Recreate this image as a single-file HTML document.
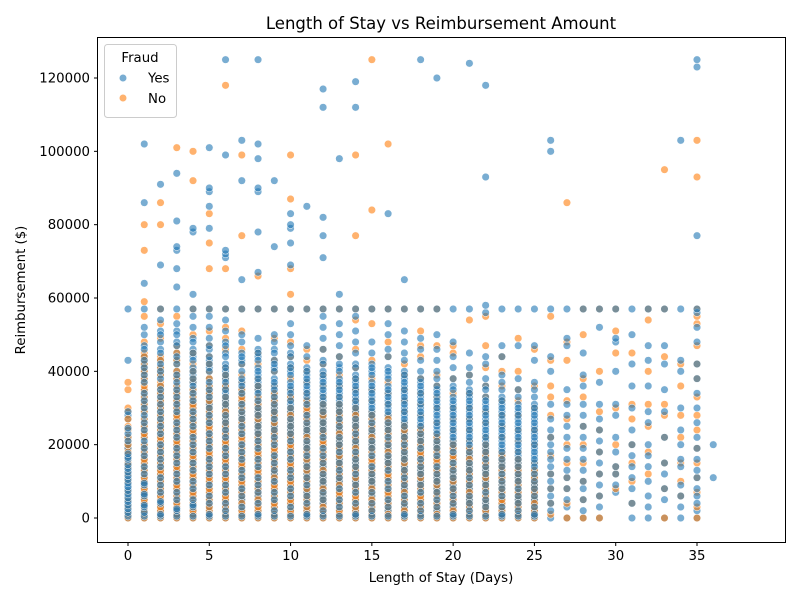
<!DOCTYPE html>
<html><head><meta charset="utf-8"><style>
body{margin:0;background:#fff}
svg text{font-family:"DejaVu Sans","Liberation Sans",sans-serif;fill:#000}
</style></head><body>
<svg id="chart" width="800" height="600" xmlns="http://www.w3.org/2000/svg">
<rect width="800" height="600" fill="#fff"/>
<text x="441" y="29" font-size="16.5" text-anchor="middle">Length of Stay vs Reimbursement Amount</text>
<g id="points"></g>
<rect x="97.5" y="37.5" width="688" height="505" fill="none" stroke="#000" stroke-width="1"/>
<g id="xticks"></g>
<g id="yticks"></g>
<text x="441" y="582" font-size="13.3" text-anchor="middle">Length of Stay (Days)</text>
<text transform="translate(25,290) rotate(-90)" font-size="13.3" text-anchor="middle">Reimbursement ($)</text>
<g>
<rect x="104.5" y="44.5" width="72" height="73" rx="3" fill="#fff" fill-opacity="0.8" stroke="#ccc"/>
<text x="140" y="62" font-size="13.3" text-anchor="middle">Fraud</text>
<circle cx="123" cy="78" r="3.8" fill="#1f77b4" fill-opacity="0.6" stroke="#fff" stroke-width="0.6"/>
<text x="148" y="82.5" font-size="13.3">Yes</text>
<circle cx="123" cy="98" r="3.8" fill="#ff7f0e" fill-opacity="0.6" stroke="#fff" stroke-width="0.6"/>
<text x="148" y="103" font-size="13.3">No</text>
</g>
</svg>
<script>
const xTicks=[0,5,10,15,20,25,30,35];
const yTicks=[0,20000,40000,60000,80000,100000,120000];
const days=[0,1,2,3,4,5,6,7,8,9,10,11,12,13,14,15,16,17,18,19,20,21,22,23,24,25,26,27,28,29,30,31,32,33,34,35,36];
// values in thousands of dollars per day
const yesValues=[
"0 1 2 3 4 5 6 7 8 9 10 11 12 13 14 15 17 18 19 20 22 24 27 28 29 43 57",
"0 1 2 4 5 7 8 10 11 13 15 16 18 20 22 23 25 27 29 31 33 35 38 40 42 44 47 50 52 57 64 86 102",
"0 2 3 5 6 8 10 12 13 15 17 19 21 22 24 26 28 30 32 34 36 39 41 43 46 48 51 54 57 69 91",
"0 1 3 4 6 8 9 11 13 14 16 18 20 21 23 25 27 28 30 32 34 36 38 40 43 45 48 51 53 57 63 68 73 74 81 94",
"0 1 2 4 6 7 9 11 12 14 16 17 19 21 23 24 26 28 30 31 33 35 37 39 41 44 46 49 52 55 57 61 78 79",
"0 2 3 5 7 8 10 11 13 15 17 18 20 22 24 25 27 29 31 32 34 36 38 41 43 46 49 52 55 57 79 85 89 90 101",
"0 1 3 5 6 8 10 11 13 15 16 18 20 21 23 25 27 29 30 32 34 36 38 40 42 45 48 51 54 57 71 72 73 99 125",
"0 1 2 4 5 7 9 10 12 14 15 17 19 21 22 24 26 28 30 32 33 35 37 40 43 45 48 50 57 65 92 103",
"0 2 3 5 6 8 10 12 13 15 17 18 20 22 24 26 27 29 31 33 35 37 39 41 44 46 49 57 67 78 89 90 98 102 125",
"0 1 3 4 6 8 9 11 12 14 16 18 19 21 23 25 26 28 30 32 34 36 38 41 43 46 48 50 57 74 92",
"0 1 2 4 5 7 9 10 12 14 15 17 19 20 22 24 26 28 29 31 33 35 37 40 42 45 47 50 53 57 69 75 79 80 83",
"0 2 3 5 7 8 10 12 13 15 16 18 20 22 23 25 27 29 30 32 35 37 39 41 44 47 57 85",
"0 1 3 4 6 8 9 11 13 14 16 18 20 21 23 25 27 28 30 32 34 36 38 40 43 46 49 52 55 57 71 77 82 112 117",
"0 1 2 4 6 7 9 10 12 14 16 17 19 21 23 24 26 28 30 32 34 36 38 41 44 47 50 53 57 61 98",
"0 2 3 5 6 8 10 11 13 15 17 19 20 22 24 26 28 29 31 33 35 37 39 42 45 48 51 55 57 112 119",
"0 1 3 5 6 8 9 11 13 15 16 18 20 22 23 25 27 29 31 33 35 37 40 42 45 48 57",
"0 1 2 4 6 7 9 11 12 14 16 18 19 21 23 25 27 28 30 32 34 36 39 41 44 46 50 53 57 83",
"0 2 3 5 7 8 10 12 14 15 17 19 21 23 24 26 28 30 32 34 36 38 40 43 45 48 51 57 65",
"0 1 3 5 6 8 10 11 13 15 17 18 20 22 24 26 28 30 31 33 35 37 40 43 46 49 57 125",
"0 1 2 4 6 8 9 11 13 15 16 18 20 22 24 25 27 29 31 33 35 38 40 43 46 50 57 120",
"0 2 3 5 7 9 10 12 14 16 17 19 21 23 25 27 29 31 33 36 38 41 44 48 57",
"0 1 3 5 7 8 10 12 14 16 17 19 21 23 25 27 29 31 33 35 37 39 41 45 57 124",
"0 1 2 4 6 8 10 11 13 15 17 19 21 23 25 27 29 31 33 36 38 42 44 56 58 93 118",
"0 2 4 5 7 9 11 13 15 17 19 21 23 25 27 29 31 33 35 37 39 44 47 57",
"0 1 3 5 7 9 11 13 15 17 19 21 23 25 27 29 31 33 35 38 47 57",
"0 2 4 5 7 9 11 13 15 17 19 21 23 25 27 29 31 33 35 37 43 47 57",
"0 2 4 6 8 10 12 14 16 18 20 22 24 27 31 40 44 57 100 103",
"0 3 5 8 11 13 16 19 22 25 28 31 35 47 49 57",
"0 2 5 8 10 13 16 19 22 25 28 31 36 39 45 57",
"0 3 6 9 12 15 18 21 24 27 31 37 52 57",
"7 9 12 14 18 22 28 31 40 48 49 57",
"0 4 8 11 14 17 20 24 30 36 42 50 57",
"0 3 6 10 14 17 20 26 29 36 43 47 57",
"0 5 8 12 15 22 29 35 42 47 57",
"0 3 6 9 14 16 20 24 30 40 43 57 103",
"0 2 4 6 8 11 13 16 19 22 26 30 34 38 42 48 52 56 57 77 123 125",
"11 20"
];
const noValues=[
"0 2 4 6 8 9 11 13 16 19 21 25 29 30 35 37",
"0 3 6 9 12 14 17 19 24 26 30 32 34 37 39 41 43 45 48 55 59 73 80",
"0 1 4 7 9 11 14 16 18 20 23 25 27 29 33 35 37 40 44 49 53 57 80 86",
"0 2 5 7 10 12 15 17 19 22 24 26 29 31 33 35 39 42 47 55 101",
"0 3 5 8 10 13 15 18 20 22 25 27 29 32 34 37 42 50 57 92 100",
"0 2 4 6 9 12 14 16 19 21 23 26 28 31 33 35 40 44 47 51 57 68 75 83",
"0 2 4 7 9 12 14 17 19 22 24 27 30 32 35 38 41 46 49 52 57 68 118",
"0 3 5 8 11 13 16 18 20 23 25 28 31 34 37 39 42 46 51 57 77 99",
"0 1 4 6 9 11 14 16 19 21 24 26 29 32 35 38 42 45 57 66",
"0 2 5 7 10 12 15 17 20 22 25 27 30 33 36 40 43 49 57",
"0 3 6 8 11 13 16 18 21 24 26 29 32 35 38 41 44 48 57 61 68 87 99",
"0 2 4 7 9 12 15 17 20 23 25 28 31 34 37 40 43 46 57",
"0 1 4 6 9 11 14 17 19 22 25 27 30 33 36 39 42 46 57",
"0 3 5 8 10 13 16 18 21 24 27 30 33 36 39 44 57",
"0 2 4 7 10 12 15 18 20 23 26 29 32 35 38 41 46 54 57 77 99",
"0 1 3 6 9 11 14 17 20 23 26 29 32 35 38 43 53 57 84 125",
"0 2 5 8 10 13 16 19 22 25 28 31 34 37 44 48 57 102",
"0 3 6 8 11 14 17 20 23 26 29 32 35 39 42 57",
"0 1 4 7 10 13 16 19 22 25 28 31 34 38 44 47 51 57",
"0 2 5 8 11 14 17 20 23 26 30 33 36 39 47 57",
"0 3 6 9 12 15 18 21 24 27 30 34 38 45 47",
"0 2 5 8 11 14 17 21 24 27 30 34 39 54",
"0 1 4 7 10 13 16 19 22 26 29 33 36 41 47 55",
"0 3 6 9 12 15 18 22 25 28 32 36 40 44",
"0 2 5 8 11 15 18 21 24 28 32 35 40 49",
"0 2 5 9 12 15 20 24 30 36 46",
"1 4 8 12 17 22 28 33 36 43 55",
"0 4 8 11 15 20 27 32 43 48 86",
"0 5 10 15 20 25 33 38 50 57",
"0 6 12 18 24 29 40 57",
"8 12 14 20 30 45 51 57",
"4 10 15 20 27 31 45",
"12 18 25 31 40 54 57",
"0 8 15 22 28 31 44 57 95",
"6 10 15 22 28 36 42",
"0 3 7 11 15 19 24 28 33 38 42 47 53 55 57 93 103",
""
];
// additional claims for the densely populated columns (days 0-25)
const yesExtra=[
"0.5 1.5 2.5 3.5 4.5 5.5 6.5 7.5 8.5 9.5 10.5 11.5 12.5 13.5 14.5 16 16.5 17.5 21 23 24.5",
"0.5 1.5 3 3.5 6 6.5 9 9.5 12 14 17 19 21 24 26 28 30 32 34 37 39 41 43 46",
"0.5 1 4 4.5 7 9 11 14 16 18 20 23 25 27 29 31 33 35 38 40 42 45 50",
"0.5 2 2.5 5 7 10 12 15 17 19 22 24 26 29 31 33 35 37 39 42 44 47 50",
"0.5 3 3.5 5 8 10 13 15 18 20 22 25 27 29 32 34 36 38 40 43 45 48",
"0.5 1 4 6 9 12 14 16 19 21 23 26 28 30 33 35 37 40 42 44 47",
"0.5 2 4 7 9 12 14 17 19 22 24 26 28 31 33 35 37 39 41 44 47",
"0.5 3 6 8 11 13 16 18 20 23 25 27 29 31 34 36 38 42 44",
"0.5 1 4 7 9 11 14 16 19 21 23 25 28 30 32 34 36 38 40 43 45",
"0.5 2 5 7 10 13 15 17 20 22 24 27 29 31 33 35 37 40 42 45",
"0.5 3 6 8 11 13 16 18 21 23 25 27 30 32 34 36 39 41 44",
"0.5 1 4 6 9 11 14 17 19 21 24 26 28 31 33 34 36 38 40",
"0.5 2 5 7 10 12 15 17 19 22 24 26 29 31 33 35 37 39 42",
"0.5 3 5 8 11 13 15 18 20 22 25 27 29 31 33 35 37 40 42",
"0.5 1 4 7 9 12 14 16 18 21 23 25 27 30 32 34 36 38 41",
"0.5 2 4 7 10 12 14 17 19 21 24 26 28 30 32 34 36 39 41",
"0.5 3 5 8 10 13 15 17 20 22 24 26 29 31 33 35 38 40",
"0.5 1 4 6 9 11 13 16 18 20 22 25 27 29 31 33 35 37 39",
"0.5 2 4 7 9 12 14 16 19 21 23 25 27 29 32 34 36 38",
"0.5 3 5 7 10 12 14 17 19 21 23 26 28 30 32 34 36",
"0.5 1 4 6 8 11 13 15 18 20 22 24 26 28 30 32 35",
"0.5 2 4 6 9 11 13 15 18 20 22 24 26 28 30 32 34",
"0.5 3 5 7 9 12 14 16 18 20 22 24 26 28 30 32 35",
"0.5 1 3 6 8 10 12 14 16 18 20 22 24 26 28 30 32",
"0.5 2 4 6 8 10 12 14 16 18 20 22 24 26 28 30",
"0.5 1 3 6 8 10 12 14 16 18 20 22 24 26 28 30"
];
const noExtra=[
"1 3 5 7 10 12 14 15 17 18 20 22 24 27",
"1 2 4 5 7 8 10 11 13 15 16 18 20 22 23 25 27 29 31 33 35 36 38 40 42 44",
"2 3 5 6 8 10 12 13 15 17 19 21 22 24 26 28 30 31 32 34 36 39 41 43",
"1 3 4 6 8 9 11 13 14 16 18 20 21 23 25 27 28 30 32 34 36 38 40 43 45",
"1 2 4 6 7 9 11 12 14 16 17 19 21 23 24 26 28 30 31 33 35 38 40 45",
"1 3 5 7 8 10 11 13 15 17 18 20 22 24 25 27 29 30 32 34 36 38 42",
"1 3 5 6 8 10 11 13 15 16 18 20 21 23 25 26 28 29 31 33 36 39",
"1 2 4 6 7 9 10 12 14 15 17 19 21 22 24 26 27 29 30 32 33 35",
"2 3 5 7 8 10 12 13 15 17 18 20 22 23 25 27 28 30 31 33 36",
"1 3 4 6 8 9 11 13 14 16 18 19 21 23 24 26 28 29 31 32 34",
"1 2 4 5 7 9 10 12 14 15 17 19 20 22 23 25 27 28 30 33",
"1 3 5 6 8 10 11 13 14 16 18 19 21 22 24 26 27 29 30 32",
"2 3 5 7 8 10 12 13 15 16 18 20 21 23 24 26 28 29 31",
"1 2 4 6 7 9 11 12 14 15 17 19 20 22 23 25 26 28 29 31",
"1 3 5 6 8 9 11 13 14 16 17 19 21 22 24 25 27 28 30",
"2 4 5 7 8 10 12 13 15 16 18 19 21 22 24 25 27 28",
"1 3 4 6 7 9 11 12 14 15 17 18 20 21 23 24 26 27",
"1 2 4 5 7 9 10 12 13 15 16 18 19 21 22 24 25",
"2 3 5 6 8 9 11 12 14 15 17 18 20 21 23 24",
"1 3 4 6 7 9 10 12 13 15 16 18 19 21 22",
"1 2 4 5 7 8 10 11 13 14 16 17 19 20",
"1 3 4 6 7 9 10 12 13 15 16 18 19",
"2 3 5 6 8 9 11 12 14 15 17 18 20",
"1 2 4 5 7 8 10 11 13 14 16 17",
"1 3 4 6 7 9 10 12 13 14 16",
"1 3 4 6 7 8 10 11 13"
];
const xScale=d=>128+d*(697-128)/35;
const yScale=v=>518-v*(518-78)/120000;
const NS="http://www.w3.org/2000/svg";
const pts=document.getElementById('points');
function parse(s){return s&&s.trim()?s.trim().split(/\s+/).map(Number):[];}
function addPt(d,v,color,cls){
  const c=document.createElementNS(NS,'circle');
  c.setAttribute('cx',xScale(d));c.setAttribute('cy',yScale(v));
  c.setAttribute('r',3.8);c.setAttribute('fill',color);
  c.setAttribute('fill-opacity',0.6);c.setAttribute('stroke','#fff');c.setAttribute('stroke-width',0.5);
  
  
  pts.appendChild(c);
}
days.forEach((d,i)=>{
  const ys=parse(yesValues[i]).concat(parse(yesExtra[i]));
  const ns=parse(noValues[i]).concat(parse(noExtra[i]));
  const n=Math.max(ys.length,ns.length);
  for(let k=0;k<n;k++){
    if(k<ys.length) addPt(d,ys[k]*1000,'#1f77b4','point-fraud-yes');
    if(k<ns.length) addPt(d,ns[k]*1000,'#ff7f0e','point-fraud-no');
  }
});
const xg=document.getElementById('xticks');
xTicks.forEach(t=>{
  const x=xScale(t);
  const l=document.createElementNS(NS,'line');
  l.setAttribute('x1',x);l.setAttribute('x2',x);l.setAttribute('y1',542.5);l.setAttribute('y2',546);l.setAttribute('stroke','#000');
  
  
  xg.appendChild(l);
  const tx=document.createElementNS(NS,'text');
  tx.setAttribute('x',x);tx.setAttribute('y',560);tx.setAttribute('font-size',13.3);tx.setAttribute('text-anchor','middle');
  tx.textContent=t;
  
  
  xg.appendChild(tx);
});
const yg=document.getElementById('yticks');
yTicks.forEach(t=>{
  const y=yScale(t);
  const l=document.createElementNS(NS,'line');
  l.setAttribute('x1',94);l.setAttribute('x2',97.5);l.setAttribute('y1',y);l.setAttribute('y2',y);l.setAttribute('stroke','#000');
  
  
  yg.appendChild(l);
  const tx=document.createElementNS(NS,'text');
  tx.setAttribute('x',90);tx.setAttribute('y',y+4.5);tx.setAttribute('font-size',13.3);tx.setAttribute('text-anchor','end');
  tx.textContent=t;
  
  
  yg.appendChild(tx);
});
</script>
</body></html>
